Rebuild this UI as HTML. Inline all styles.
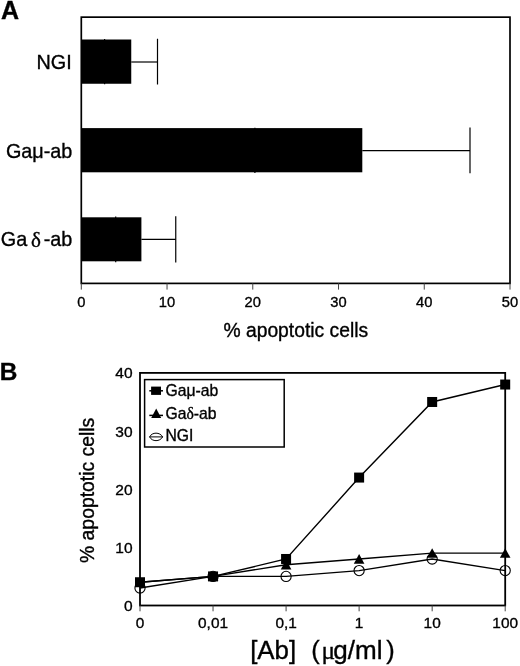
<!DOCTYPE html>
<html><head><meta charset="utf-8"><title>Figure</title>
<style>html,body{margin:0;padding:0;background:#fff}svg{display:block}text{font-family:"Liberation Sans",sans-serif;fill:#000;stroke:#000;stroke-width:.35px}.s{font-family:"Liberation Serif","DejaVu Serif",serif}</style></head>
<body>
<svg width="520" height="666" viewBox="0 0 520 666">
<rect width="520" height="666" fill="#fff"/>
<text x="1" y="18.8" font-size="25" font-weight="bold">A</text>
<rect x="81.3" y="17.15" width="428.7" height="266.25" fill="none" stroke="#000" stroke-width="1.7"/>
<line x1="81.30" y1="283.4" x2="81.30" y2="289.6" stroke="#444" stroke-width="1"/>
<text x="81.30" y="307.2" font-size="14.7" text-anchor="middle">0</text>
<line x1="167.04" y1="283.4" x2="167.04" y2="289.6" stroke="#444" stroke-width="1"/>
<text x="167.04" y="307.2" font-size="14.7" text-anchor="middle">10</text>
<line x1="252.78" y1="283.4" x2="252.78" y2="289.6" stroke="#444" stroke-width="1"/>
<text x="252.78" y="307.2" font-size="14.7" text-anchor="middle">20</text>
<line x1="338.52" y1="283.4" x2="338.52" y2="289.6" stroke="#444" stroke-width="1"/>
<text x="338.52" y="307.2" font-size="14.7" text-anchor="middle">30</text>
<line x1="424.26" y1="283.4" x2="424.26" y2="289.6" stroke="#444" stroke-width="1"/>
<text x="424.26" y="307.2" font-size="14.7" text-anchor="middle">40</text>
<line x1="510.00" y1="283.4" x2="510.00" y2="289.6" stroke="#444" stroke-width="1"/>
<text x="510.00" y="307.2" font-size="14.7" text-anchor="middle">50</text>
<line x1="104.6" y1="38.95" x2="104.6" y2="84.3" stroke="#000" stroke-width="1.2"/>
<rect x="81.3" y="39.5" width="49.95" height="44.25" fill="#000"/>
<line x1="131.25" y1="62" x2="157.5" y2="62" stroke="#000" stroke-width="1.2"/>
<line x1="157.5" y1="38.75" x2="157.5" y2="84.5" stroke="#000" stroke-width="1.2"/>
<line x1="254.9" y1="127.7" x2="254.9" y2="173.10000000000002" stroke="#000" stroke-width="1.2"/>
<rect x="81.3" y="128.1" width="281.00" height="44.20" fill="#000"/>
<line x1="362.3" y1="150.6" x2="470" y2="150.6" stroke="#000" stroke-width="1.2"/>
<line x1="470" y1="127.5" x2="470" y2="173.3" stroke="#000" stroke-width="1.2"/>
<line x1="115.7" y1="216.45" x2="115.7" y2="262.3" stroke="#000" stroke-width="1.2"/>
<rect x="81.3" y="217.3" width="60.10" height="44.00" fill="#000"/>
<line x1="141.4" y1="239.3" x2="175.75" y2="239.3" stroke="#000" stroke-width="1.2"/>
<line x1="175.75" y1="216.25" x2="175.75" y2="262.5" stroke="#000" stroke-width="1.2"/>
<text x="71.7" y="68.8" font-size="19.8" text-anchor="end">NGI</text>
<text x="72.3" y="158" font-size="19.8" text-anchor="end">Gaμ-ab</text>
<text x="0.8" y="246" font-size="19.8">Ga</text><text x="31" y="246.6" font-size="21" class="s">δ</text><text x="72.3" y="246" font-size="19.8" text-anchor="end">-ab</text>
<text x="295.8" y="337.4" font-size="19.3" text-anchor="middle">% apoptotic cells</text>
<text x="-0.3" y="380" font-size="24.4" font-weight="bold">B</text>
<rect x="140" y="372.9" width="365.2" height="232.60000000000002" fill="none" stroke="#000" stroke-width="1.8"/>
<line x1="140.00" y1="605.5" x2="140.00" y2="611.3" stroke="#444" stroke-width="1"/>
<text x="140.00" y="628" font-size="15.4" text-anchor="middle">0</text>
<line x1="213.04" y1="605.5" x2="213.04" y2="611.3" stroke="#444" stroke-width="1"/>
<text x="213.04" y="628" font-size="15.4" text-anchor="middle">0,01</text>
<line x1="286.08" y1="605.5" x2="286.08" y2="611.3" stroke="#444" stroke-width="1"/>
<text x="286.08" y="628" font-size="15.4" text-anchor="middle">0,1</text>
<line x1="359.12" y1="605.5" x2="359.12" y2="611.3" stroke="#444" stroke-width="1"/>
<text x="359.12" y="628" font-size="15.4" text-anchor="middle">1</text>
<line x1="432.16" y1="605.5" x2="432.16" y2="611.3" stroke="#444" stroke-width="1"/>
<text x="432.16" y="628" font-size="15.4" text-anchor="middle">10</text>
<line x1="505.20" y1="605.5" x2="505.20" y2="611.3" stroke="#444" stroke-width="1"/>
<text x="505.20" y="628" font-size="15.4" text-anchor="middle">100</text>
<text x="132.6" y="611.00" font-size="15.5" text-anchor="end">0</text>
<text x="132.6" y="552.85" font-size="15.5" text-anchor="end">10</text>
<text x="132.6" y="494.70" font-size="15.5" text-anchor="end">20</text>
<text x="132.6" y="436.55" font-size="15.5" text-anchor="end">30</text>
<text x="132.6" y="378.40" font-size="15.5" text-anchor="end">40</text>
<text transform="translate(94.4,490.4) scale(1.085,1) rotate(-90)" font-size="19.35" text-anchor="middle">% apoptotic cells</text>
<text y="658.8" font-size="25.4"><tspan x="250.2" textLength="46" lengthAdjust="spacingAndGlyphs">[Ab]</tspan><tspan x="311.2">(</tspan><tspan x="321.5" class="s">μ</tspan><tspan x="333.3" textLength="49.2" lengthAdjust="spacingAndGlyphs">g/ml</tspan><tspan x="386.2">)</tspan></text>
<rect x="144.6" y="379.6" width="139.6" height="67.4" fill="#fff" stroke="#000" stroke-width="1.5"/>
<line x1="149.3" y1="390.8" x2="163" y2="390.8" stroke="#000" stroke-width="1.5"/><rect x="151.1" y="386.6" width="9.9" height="8.3" fill="#000"/>
<text x="165.5" y="396.3" font-size="15.7">Gaμ-ab</text>
<line x1="149.3" y1="415.4" x2="163" y2="415.4" stroke="#000" stroke-width="1.5"/><polygon points="156.2,408.6 161.2,418 151.2,418" fill="#000"/>
<text x="165.5" y="418.7" font-size="15.7">Ga<tspan class="s">δ</tspan>-ab</text>
<line x1="149.5" y1="436.9" x2="163" y2="436.9" stroke="#000" stroke-width="1"/><path d="M149.6 436.9 C152 431.9 160 431.9 162.6 436.9 C160 441.9 152 441.9 149.6 436.9 Z" fill="none" stroke="#000" stroke-width="1"/>
<text x="165.5" y="441.1" font-size="15.7">NGI</text>
<polyline fill="none" stroke="#000" stroke-width="1.4" points="140.00,588.05 213.04,576.42 286.08,576.42 359.12,570.61 432.16,558.98 505.20,570.61"/>
<polyline fill="none" stroke="#000" stroke-width="1.4" points="140.00,582.24 213.04,576.42 286.08,564.79 359.12,558.98 432.16,553.16 505.20,553.16"/>
<polyline fill="none" stroke="#000" stroke-width="1.4" points="140.00,582.24 213.04,576.42 286.08,558.98 359.12,477.57 432.16,401.98 505.20,384.53"/>
<circle cx="140.00" cy="588.05" r="5.1" fill="none" stroke="#000" stroke-width="1.1"/>
<circle cx="213.04" cy="576.42" r="5.1" fill="none" stroke="#000" stroke-width="1.1"/>
<circle cx="286.08" cy="576.42" r="5.1" fill="none" stroke="#000" stroke-width="1.1"/>
<circle cx="359.12" cy="570.61" r="5.1" fill="none" stroke="#000" stroke-width="1.1"/>
<circle cx="432.16" cy="558.98" r="5.1" fill="none" stroke="#000" stroke-width="1.1"/>
<circle cx="505.20" cy="570.61" r="5.1" fill="none" stroke="#000" stroke-width="1.1"/>
<polygon points="140.00,577.24 145.30,586.94 134.70,586.94" fill="#000"/>
<polygon points="213.04,571.42 218.34,581.12 207.74,581.12" fill="#000"/>
<polygon points="286.08,559.79 291.38,569.50 280.78,569.50" fill="#000"/>
<polygon points="359.12,553.98 364.42,563.68 353.82,563.68" fill="#000"/>
<polygon points="432.16,548.16 437.46,557.87 426.86,557.87" fill="#000"/>
<polygon points="505.20,548.16 510.50,557.87 499.90,557.87" fill="#000"/>
<rect x="135.00" y="577.24" width="10" height="10" fill="#000"/>
<rect x="208.04" y="571.42" width="10" height="10" fill="#000"/>
<rect x="281.08" y="553.98" width="10" height="10" fill="#000"/>
<rect x="354.12" y="472.57" width="10" height="10" fill="#000"/>
<rect x="427.16" y="396.98" width="10" height="10" fill="#000"/>
<rect x="500.20" y="379.53" width="10" height="10" fill="#000"/>
</svg>
</body></html>
